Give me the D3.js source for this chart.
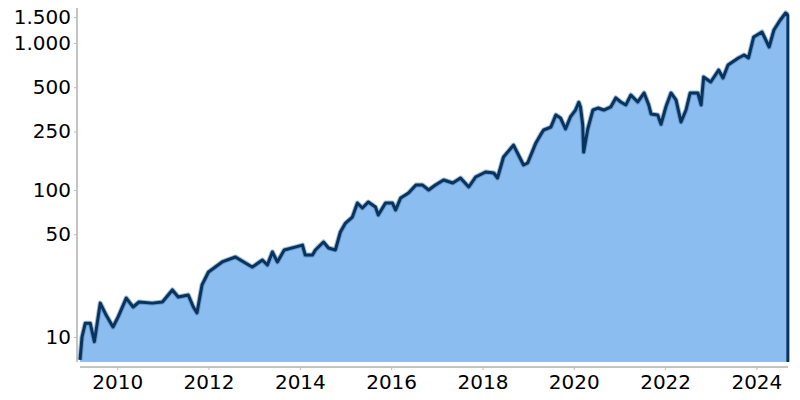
<!DOCTYPE html>
<html><head><meta charset="utf-8">
<script src="https://cdn.jsdelivr.net/npm/d3@7"></script>
<style>
html,body{margin:0;padding:0;background:#fff;}
svg{display:block;font-family:"DejaVu Sans",sans-serif;}
</style></head>
<body><svg id="chart" width="800" height="400"></svg>
<script>
const dates = ["2009-03-09","2009-03-25","2009-04-20","2009-05-30","2009-07-02","2009-08-18","2009-10-04","2009-11-28",
"2010-01-08","2010-03-14","2010-05-08","2010-06-24","2010-10-08","2010-12-28",
"2011-03-18","2011-05-04","2011-07-23","2011-09-02","2011-10-01","2011-11-10",
"2012-01-01","2012-04-19","2012-08-03","2012-10-22","2012-12-16",
"2013-03-07","2013-04-16","2013-05-26","2013-07-05","2013-08-29","2013-11-24",
"2014-01-22","2014-02-13","2014-04-12","2014-05-05","2014-07-09","2014-08-18","2014-10-12","2014-11-21",
"2015-01-01","2015-02-25","2015-04-06","2015-05-16","2015-07-02","2015-08-29","2015-09-20","2015-11-17",
"2016-01-11","2016-02-06","2016-03-17","2016-05-19","2016-07-17","2016-09-09","2016-10-27","2016-12-20",
"2017-02-24","2017-05-08","2017-07-09","2017-09-13","2017-11-07",
"2018-01-26","2018-04-01","2018-05-01","2018-06-18","2018-09-06","2018-10-16","2018-11-25","2018-12-28",
"2019-03-04","2019-04-10","2019-05-05","2019-07-02","2019-08-11","2019-09-17","2019-10-27","2019-12-05",
"2020-01-15","2020-02-10","2020-02-24","2020-03-13","2020-03-20","2020-04-22","2020-06-02","2020-07-13","2020-08-29","2020-10-23","2020-12-02",
"2021-01-11","2021-02-21","2021-04-02","2021-05-27","2021-07-17","2021-08-23","2021-09-10","2021-11-03","2021-11-29",
"2022-01-08","2022-02-17","2022-03-29","2022-05-08","2022-06-17","2022-07-20","2022-09-20","2022-10-16","2022-11-05",
"2023-01-01","2023-03-05","2023-04-09","2023-05-19","2023-08-10","2023-09-25","2023-10-30","2023-12-10",
"2024-02-15","2024-04-12","2024-05-20","2024-07-10","2024-08-22","2024-09-09"];
const values = [7.0,10.0,12.4,12.4,9.3,17.0,14.1,11.7,
13.7,18.4,16.0,17.3,17.0,17.3,
20.9,18.7,19.3,16.0,14.6,22.6,
27.7,32.4,35.0,31.9,29.9,
33.4,30.9,37.9,32.4,39.1,40.9,
42.2,36.1,36.1,39.1,44.3,40.3,39.1,51.8,
59.6,65.5,81.6,75.5,82.9,76.6,67.6,81.6,
81.6,73.1,88.2,95.4,108,108,100,108,
117,111.6,120.7,104.8,122.6,
132.6,130.5,120.7,167.7,202,173,148,152.6,
209,237,256,268,324,309,260,314,
350,395,367,277,181,260,350,361,350,367,423,
397,379,443,397,457,379,329,324,280,
370,457,410,290,350,457,457,379,587,
543,655,578,708,791,829,791,1098,
1188,939,1225,1434,1600,1550];
const yTicks = [10,50,100,250,500,1000,1500];
const xTickYears = [2010,2012,2014,2016,2018,2020,2022,2024];
const yDomain = [6.76,1730];

const parse = d3.timeParse("%Y-%m-%d");
const data = dates.map((d,i)=>({date:parse(d), value:values[i]}));
const svg = d3.select("#chart");
const pL = 80, pR = 788, pT = 8, pB = 362;
const x = d3.scaleTime().domain([parse("2009-03-09"), parse("2024-09-10")]).range([pL,pR]);
const y = d3.scaleLog().domain(yDomain).range([pB,pT]);

const de = d3.formatLocale({decimal:",", thousands:".", grouping:[3], currency:["","€"]});
const fmt = de.format(",d");

// area
const area = d3.area().x(d=>x(d.date)).y0(pB).y1(d=>y(d.value));
svg.append("path").datum(data).attr("d",area).attr("fill","#8cbdf1");

// line incl. right edge
const last = data[data.length-1];
const lineData = data.concat([{date:last.date, value:yDomain[0]}]);
const line = d3.line().x(d=>x(d.date)).y(d=>y(d.value));
svg.append("path").datum(data).attr("d",line).attr("fill","none")
  .attr("stroke","#4a74a0").attr("stroke-width",5).attr("stroke-opacity",0.5).attr("stroke-linejoin","round");
svg.append("path").datum(lineData).attr("d",line).attr("fill","none")
  .attr("stroke","#07335f").attr("stroke-width",3).attr("stroke-linejoin","round");

// y axis
const yAxis = d3.axisLeft(y).tickValues(yTicks).tickFormat(fmt).tickSize(3).tickPadding(3);
const gy = svg.append("g").attr("transform","translate(77,0)").call(yAxis);
gy.select(".domain").attr("stroke","#888").attr("d",`M0,${pT}V${pB}`);
gy.selectAll(".tick line").attr("stroke","#bbb");
gy.selectAll("text").attr("font-size",20).attr("fill","#000").attr("font-family","DejaVu Sans");

// x axis
const xAxis = d3.axisBottom(x).tickValues(xTickYears.map(yr=>new Date(yr,0,1))).tickFormat(d3.timeFormat("%Y")).tickSize(3).tickPadding(5);
const gx = svg.append("g").attr("transform","translate(0,367)").call(xAxis);
gx.select(".domain").attr("stroke","#888").attr("d",`M${pL},0H${pR}`);
gx.selectAll(".tick line").attr("stroke","#bbb");
gx.selectAll("text").attr("font-size",20).attr("fill","#000").attr("font-family","DejaVu Sans");
</script></body></html>
